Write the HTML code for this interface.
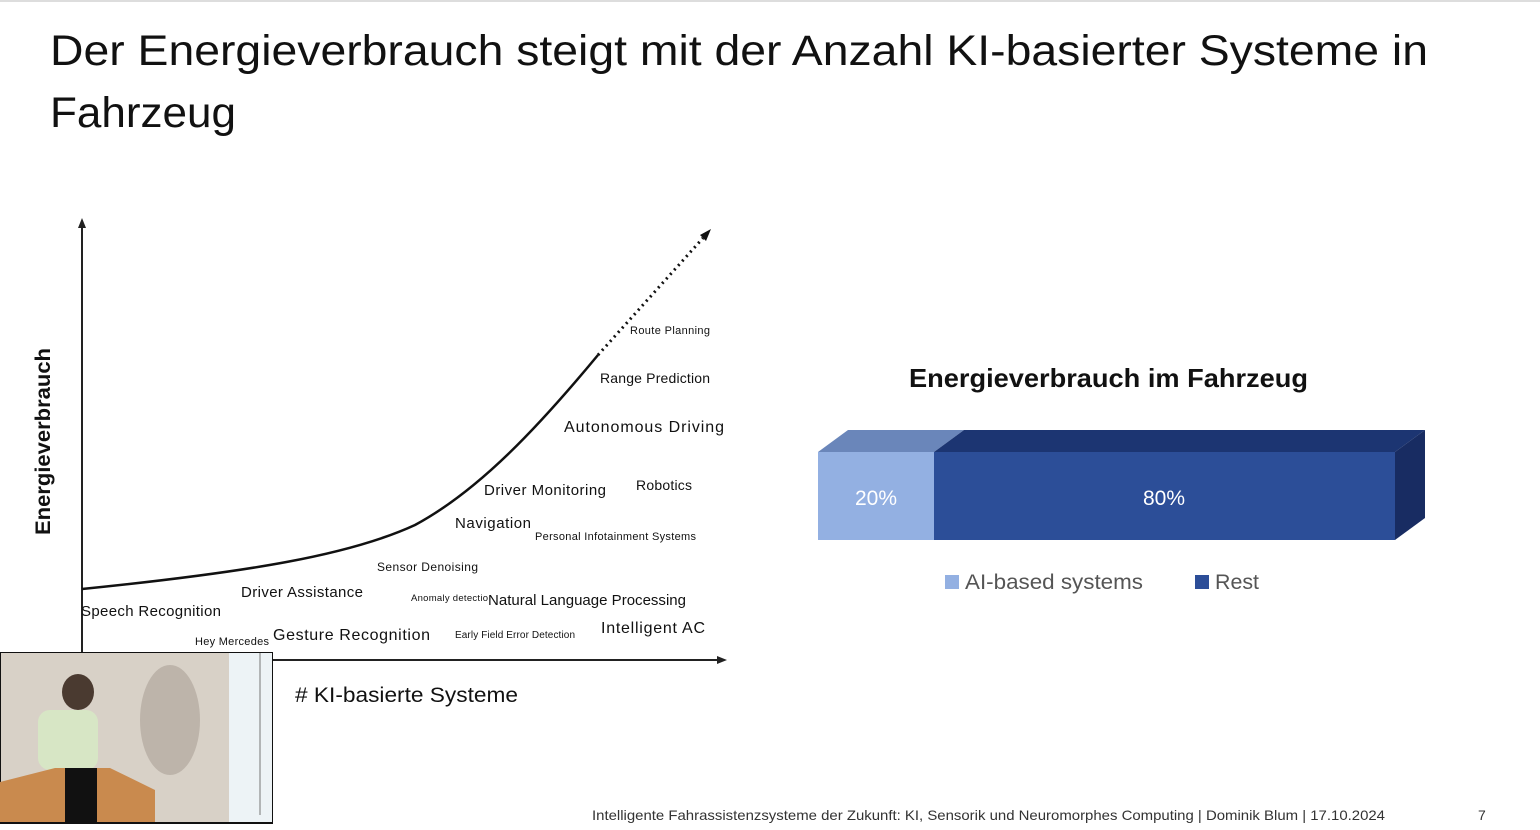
<!DOCTYPE html>
<html><head><meta charset="utf-8"><style>
body{margin:0;width:1540px;height:825px;overflow:hidden;background:#fff;font-family:"Liberation Sans","DejaVu Sans",sans-serif}
</style></head><body>
<svg width="1540" height="825" viewBox="0 0 1540 825" xmlns="http://www.w3.org/2000/svg" font-family="Liberation Sans, DejaVu Sans, sans-serif">
<rect width="1540" height="825" fill="#fff"/>
<rect width="1540" height="2" fill="#ddd"/>
<text x="50" y="65" font-size="43" fill="#111" textLength="1378" lengthAdjust="spacingAndGlyphs">Der Energieverbrauch steigt mit der Anzahl KI-basierter Systeme in</text>
<text x="50" y="127" font-size="43" fill="#111" textLength="186" lengthAdjust="spacingAndGlyphs">Fahrzeug</text>
<line x1="82" y1="662" x2="82" y2="226" stroke="#222" stroke-width="2"/>
<polygon points="82,218 78,228 86,228" fill="#222"/>
<line x1="82" y1="660" x2="718" y2="660" stroke="#222" stroke-width="2"/>
<polygon points="727,660 717,656 717,664" fill="#222"/>
<text transform="translate(50,535) rotate(-90)" font-size="21" font-weight="bold" fill="#111" textLength="187" lengthAdjust="spacingAndGlyphs">Energieverbrauch</text>
<text x="295" y="702" font-size="21" fill="#111" textLength="223" lengthAdjust="spacingAndGlyphs"># KI-basierte Systeme</text>
<path d="M82,589 C250,572 350,555 415,525 C480,490 540,425 598,355" fill="none" stroke="#111" stroke-width="2.5"/>
<line x1="598" y1="355" x2="703" y2="238" stroke="#111" stroke-width="3" stroke-dasharray="2,4"/>
<polygon points="711,229 700,235 706,241" fill="#111"/>
<g fill="#111" lengthAdjust="spacingAndGlyphs">
<text x="630" y="334" font-size="11" textLength="80">Route Planning</text>
<text x="600" y="383" font-size="14" textLength="110">Range Prediction</text>
<text x="564" y="432" font-size="16" textLength="160">Autonomous Driving</text>
<text x="484" y="495" font-size="15" textLength="122">Driver Monitoring</text>
<text x="636" y="490" font-size="14" textLength="56">Robotics</text>
<text x="455" y="528" font-size="15" textLength="76">Navigation</text>
<text x="535" y="540" font-size="11" textLength="161">Personal Infotainment Systems</text>
<text x="377" y="571" font-size="12" textLength="101">Sensor Denoising</text>
<text x="241" y="597" font-size="15" textLength="122">Driver Assistance</text>
<text x="411" y="601" font-size="9.5" textLength="77">Anomaly detectio</text>
<text x="488" y="605" font-size="15" textLength="198">Natural Language Processing</text>
<text x="81" y="616" font-size="15" textLength="140">Speech Recognition</text>
<text x="601" y="633" font-size="16" textLength="104">Intelligent AC</text>
<text x="273" y="640" font-size="16" textLength="157">Gesture Recognition</text>
<text x="455" y="638" font-size="10" textLength="120">Early Field Error Detection</text>
<text x="195" y="645" font-size="11" textLength="74">Hey Mercedes</text>
</g>
<text x="909" y="387" font-size="26" font-weight="bold" fill="#111" textLength="399" lengthAdjust="spacingAndGlyphs">Energieverbrauch im Fahrzeug</text>
<polygon points="818,452 848,430 964,430 934,452" fill="#6a86ba"/>
<polygon points="934,452 964,430 1425,430 1395,452" fill="#1c3572"/>
<polygon points="1395,452 1425,430 1425,518 1395,540" fill="#182c62"/>
<rect x="818" y="452" width="116" height="88" fill="#93b0e2"/>
<rect x="934" y="452" width="461" height="88" fill="#2c4e98"/>
<text x="876" y="505" font-size="21" fill="#fff" text-anchor="middle">20%</text>
<text x="1164" y="505" font-size="21" fill="#fff" text-anchor="middle">80%</text>
<rect x="945" y="575" width="14" height="14" fill="#93b0e2"/>
<text x="965" y="589" font-size="21" fill="#555" textLength="178" lengthAdjust="spacingAndGlyphs">AI-based systems</text>
<rect x="1195" y="575" width="14" height="14" fill="#2c4e98"/>
<text x="1215" y="589" font-size="21" fill="#555" textLength="44" lengthAdjust="spacingAndGlyphs">Rest</text>
<rect x="0" y="652" width="273" height="172" fill="#111"/>
<rect x="1" y="653" width="228" height="169" fill="#d8d1c7"/>
<rect x="229" y="653" width="43" height="169" fill="#edf3f6"/>
<line x1="260" y1="653" x2="260" y2="815" stroke="#777"/>
<ellipse cx="170" cy="720" rx="30" ry="55" fill="#bdb4aa"/>
<ellipse cx="78" cy="692" rx="16" ry="18" fill="#4a3a30"/>
<rect x="38" y="710" width="60" height="60" rx="12" fill="#d7e6c5"/>
<polygon points="0,782 55,768 110,768 155,790 155,822 0,822" fill="#c98a4e"/>
<rect x="65" y="768" width="32" height="55" fill="#111"/>
<text x="592" y="820" font-size="14" fill="#333" textLength="793" lengthAdjust="spacingAndGlyphs">Intelligente Fahrassistenzsysteme der Zukunft: KI, Sensorik und Neuromorphes Computing  |  Dominik Blum  |  17.10.2024</text>
<text x="1478" y="820" font-size="14" fill="#333">7</text>
</svg>
</body></html>
